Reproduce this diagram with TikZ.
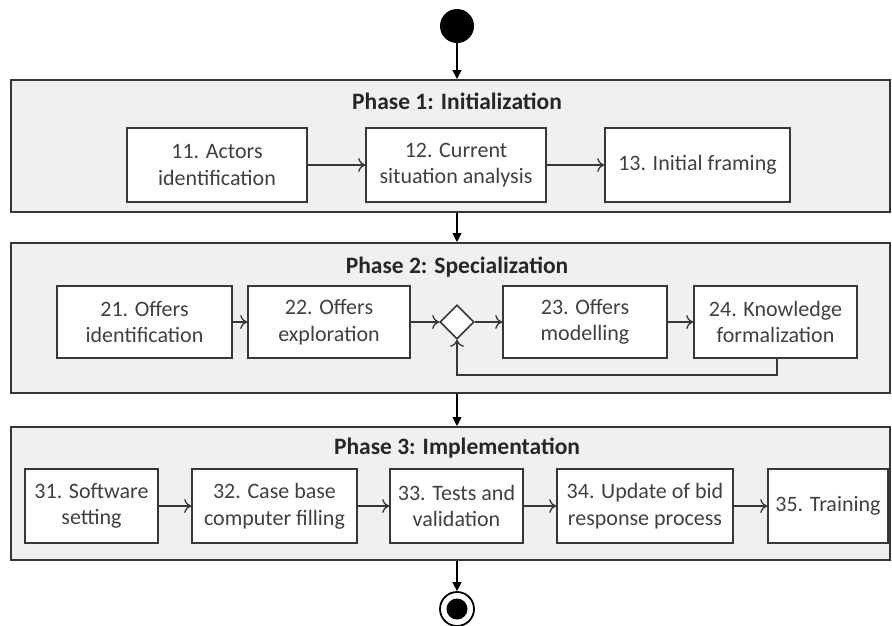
\documentclass[tikz,border=0pt]{standalone}
\usepackage{fontspec}
\setmainfont{Carlito}
\usetikzlibrary{arrows.meta,shapes.geometric}
\definecolor{phasegray}{RGB}{240,240,240}
\definecolor{linegray}{RGB}{55,55,55}

\begin{document}
\begin{tikzpicture}[x=1pt,y=-1pt,
  phase/.style={draw=linegray, line width=2pt, fill=phasegray, inner sep=0, minimum width=879pt},
  title/.style={font=\fontsize{23.5}{26}\selectfont\bfseries, text=black!85},
  task/.style={draw=linegray, line width=1.6pt, fill=white, align=center, inner sep=0,
    font=\fontsize{22}{26.5}\selectfont, text=black!75},
  flow/.style={-{To[length=7pt,width=14pt]}, line width=1.3pt, draw=linegray},
  enter/.style={-{Triangle[length=9pt,width=9pt]}, line width=1.3pt}]
\useasboundingbox (0,0) rectangle (892,625);

% phases
\node [phase, minimum height=132pt] (phase1) at (450.5,146) {};
\node [phase, minimum height=150pt] (phase2) at (450.5,318) {};
\node [phase, minimum height=133pt] (phase3) at (450.5,493.5) {};
\node [title] (title1) at (457,101) {Phase 1: Initialization};
\node [title] (title2) at (457,267) {Phase 2: Specialization};
\node [title] (title3) at (457,448) {Phase 3: Implementation};

% start and end
\node [circle, fill=black, minimum size=34pt, inner sep=0] (start) at (457,26) {};
\node [circle, draw=black, line width=1.8pt, minimum size=34pt, inner sep=0] (stop) at (457,609) {};
\node [circle, fill=black, minimum size=21pt, inner sep=0] (stopdot) at (457,609) {};

% phase 1
\node [task, minimum width=180pt, minimum height=74pt] (t11) at (217,165) {11. Actors\\identification};
\node [task, minimum width=180pt, minimum height=74pt] (t12) at (456,165) {12. Current\\situation analysis};
\node [task, minimum width=185pt, minimum height=74pt] (t13) at (697.5,165) {13. Initial framing};

% phase 2
\node [task, minimum width=175pt, minimum height=72pt] (t21) at (144.5,322) {21. Offers\\identification};
\node [task, minimum width=162pt, minimum height=72pt] (t22) at (329,322) {22. Offers\\exploration};
\node [diamond, draw=linegray, line width=1.6pt, fill=white, minimum size=34pt, inner sep=0] (choice) at (457,322) {};
\node [task, minimum width=164pt, minimum height=72pt] (t23) at (585,322) {23. Offers\\modelling};
\node [task, minimum width=163pt, minimum height=72pt] (t24) at (775.5,322) {24. Knowledge\\formalization};
\coordinate (loop) at (777,375);

% phase 3
\node [task, minimum width=133pt, minimum height=74pt] (t31) at (91.5,506) {31. Software\\setting};
\node [task, minimum width=165pt, minimum height=74pt] (t32) at (274.5,506) {32. Case base\\computer filling};
\node [task, minimum width=133pt, minimum height=74pt] (t33) at (456.5,506) {33. Tests and\\validation};
\node [task, minimum width=176pt, minimum height=74pt] (t34) at (645,506) {34. Update of bid\\response process};
\node [task, minimum width=120pt, minimum height=74pt] (t35) at (828,506) {35. Training};

% transitions
\draw [enter] (start) -- (start |- phase1.north);
\draw [enter] (start |- phase1.south) -- (start |- phase2.north);
\draw [enter] (start |- phase2.south) -- (start |- phase3.north);
\draw [enter] (start |- phase3.south) -- (stop);

\draw [flow] (t11) -- (t12);
\draw [flow] (t12) -- (t13);
\draw [flow] (t21) -- (t22);
\draw [flow] (t22) -- (choice);
\draw [flow] (choice) -- (t23);
\draw [flow] (t23) -- (t24);
\draw [flow] (t24.south -| loop) -- (loop) -| (choice.south);
\draw [flow] (t31) -- (t32);
\draw [flow] (t32) -- (t33);
\draw [flow] (t33) -- (t34);
\draw [flow] (t34) -- (t35);

\end{tikzpicture}
\end{document}
